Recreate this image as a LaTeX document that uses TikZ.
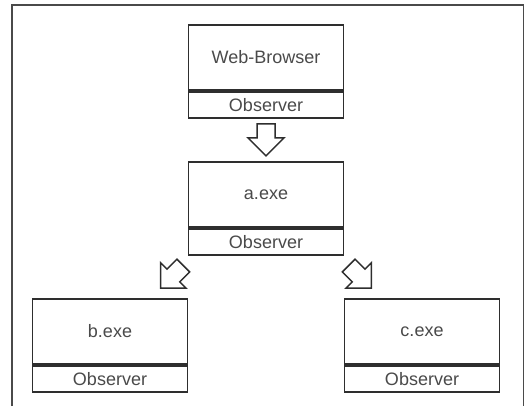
\documentclass[tikz,border=0pt]{standalone}
\usepackage{fontspec}
\setmainfont{Liberation Sans}
\usetikzlibrary{calc}
\definecolor{boxline}{HTML}{2E2E2E}
\definecolor{frameline}{HTML}{4A4A4A}
\definecolor{labeltext}{HTML}{4A4A4A}
\begin{document}
\begin{tikzpicture}[x=1pt, y=1pt,
  part/.style={draw=boxline, line width=1.8pt, fill=white,
    minimum width=155pt, minimum height=65pt, inner sep=0pt,
    text=labeltext, font=\fontsize{18}{20}\selectfont},
  obspart/.style={part, minimum height=26pt},
  blockarrow/.style={draw=boxline, line width=1.5pt, fill=white, line join=miter}
]
\useasboundingbox (0,0) rectangle (526,406);

% open frame around the diagram
\draw[frameline, line width=1.1pt] (12,0) -- (12,401) -- (523.5,401) -- (523.5,0);

% components, each with its observer strip
\node[part] (web) at (266,348.5) {Web-Browser};
\node[obspart, anchor=north] (webobs) at (web.south) {Observer};

\node[part] (a) at (266,211.5) {a.exe};
\node[obspart, anchor=north] (aobs) at (a.south) {Observer};

\node[part] (b) at (110,74.5) {b.exe};
\node[obspart, anchor=north] (bobs) at (b.south) {Observer};

\node[part] (c) at (422,74.5) {c.exe};
\node[obspart, anchor=north] (cobs) at (c.south) {Observer};

% block arrows between the components
\coordinate (wa) at ($(webobs.south)!0.5!(a.north)$);
\coordinate (ab) at ($(aobs.south west)!0.5!(b.north east) + (-16,0)$);
\coordinate (ac) at ($(aobs.south east)!0.5!(c.north west) + (16,0)$);

\foreach \pos/\ang in {wa/0, ab/-45, ac/45}{
  \begin{scope}[shift={(\pos)}, rotate=\ang]
    \draw[blockarrow] (0,-16) -- (18,2) -- (9,2) -- (9,16) -- (-9,16)
      -- (-9,2) -- (-18,2) -- cycle;
  \end{scope}
}
\end{tikzpicture}
\end{document}
